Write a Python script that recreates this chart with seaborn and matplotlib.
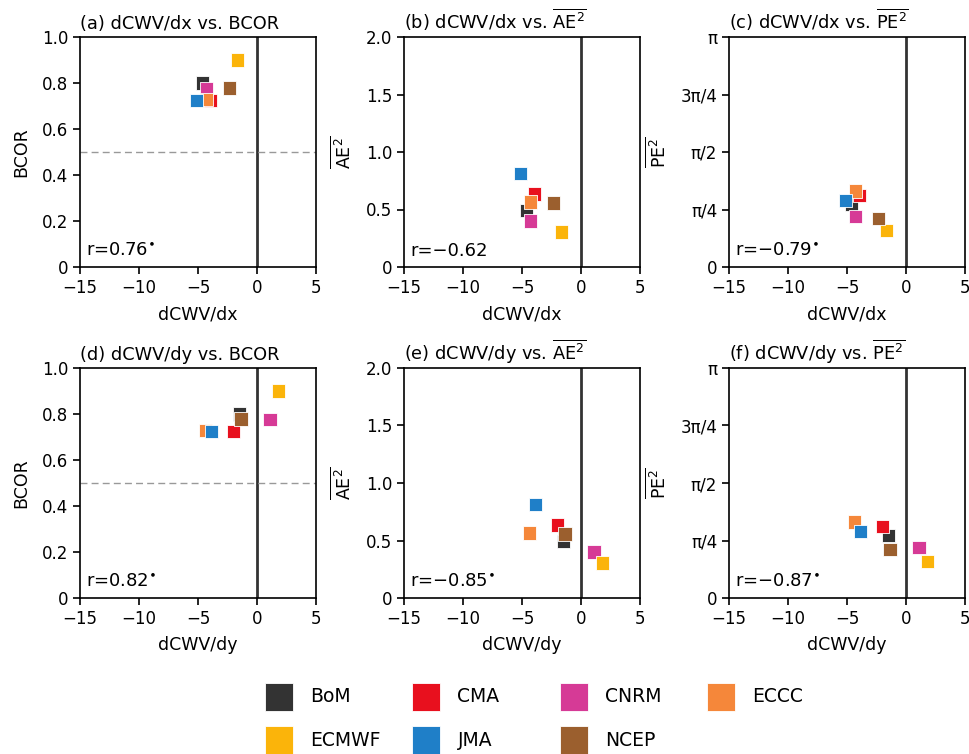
import numpy as np
import pandas as pd
import matplotlib
matplotlib.use('Agg')
import matplotlib.pyplot as plt
import seaborn as sns

# --- data ---
models = ['BoM', 'CMA', 'CNRM', 'ECCC', 'ECMWF', 'JMA', 'NCEP']
colors = ['#333333', '#e8101e', '#d63a96', '#f5873a', '#fbb40a', '#1f7fc8', '#9b5f2e']

dcwv_dx = [-4.6, -3.95, -4.3, -4.3, -1.62, -5.15, -2.35]
dcwv_dy = [-1.47, -2.0, 1.1, -4.33, 1.8, -3.85, -1.35]
bcor = [0.80, 0.725, 0.777, 0.727, 0.90, 0.723, 0.778]
ae2 = [0.49, 0.635, 0.40, 0.565, 0.305, 0.81, 0.556]
pe2 = [0.858, 0.98, 0.69, 1.038, 0.495, 0.905, 0.658]

r_dx = ['r=0.76', 'r=\u22120.62', 'r=\u22120.79']
r_dy = ['r=0.82', 'r=\u22120.85', 'r=\u22120.87']
sig_dx = [True, False, True]
sig_dy = [True, True, True]

df = pd.DataFrame({'model': models, 'dx': dcwv_dx, 'dy': dcwv_dy,
                   'BCOR': bcor, 'AE2': ae2, 'PE2': pe2})
palette = dict(zip(models, colors))

sns.set_style('ticks')
plt.rcParams['font.family'] = ['DejaVu Sans']
plt.rcParams['axes.linewidth'] = 1.2
plt.rcParams['text.color'] = 'black'
plt.rcParams['axes.labelcolor'] = 'black'
plt.rcParams['xtick.color'] = 'black'
plt.rcParams['ytick.color'] = 'black'

fig = plt.figure(figsize=(9.7, 7.54), dpi=100)
W, H = 970, 754
lefts = [80, 404, 729]
tops = [37, 368]
aw, ah = 236, 230

yvars = ['BCOR', 'AE2', 'PE2']
ylabels = ['BCOR', r'$\overline{\mathrm{AE}^2}$', r'$\overline{\mathrm{PE}^2}$']
title_y = ['BCOR', r'$\overline{\mathrm{AE}^2}$', r'$\overline{\mathrm{PE}^2}$']
letters = ['abc', 'def']
xvars = ['dx', 'dy']
xnames = ['dCWV/dx', 'dCWV/dy']
rtexts = [r_dx, r_dy]
sigs = [sig_dx, sig_dy]

for i in range(2):
    for j in range(3):
        ax = fig.add_axes([lefts[j] / W, (H - tops[i] - ah) / H, aw / W, ah / H])
        ax.axvline(0, color='#333333', lw=2, zorder=1)
        if j == 0:
            ax.axhline(0.5, color='#999999', lw=1, ls=(0, (5, 3)), zorder=1)
        sns.scatterplot(data=df, x=xvars[i], y=yvars[j], hue='model', palette=palette,
                        marker='s', s=90, edgecolor='white', linewidth=0.6,
                        legend=False, ax=ax, zorder=3)
        ax.set_xlim(-15, 5)
        ax.set_xticks([-15, -10, -5, 0, 5])
        ax.set_xticklabels(['\u221215', '\u221210', '\u22125', '0', '5'])
        if j == 0:
            ax.set_ylim(0, 1)
            ax.set_yticks(np.arange(0, 1.01, 0.2))
            ax.set_yticklabels(['0', '0.2', '0.4', '0.6', '0.8', '1.0'])
        elif j == 1:
            ax.set_ylim(0, 2)
            ax.set_yticks([0, 0.5, 1.0, 1.5, 2.0])
            ax.set_yticklabels(['0', '0.5', '1.0', '1.5', '2.0'])
        else:
            ax.set_ylim(0, np.pi)
            ax.set_yticks([0, np.pi / 4, np.pi / 2, 3 * np.pi / 4, np.pi])
            ax.set_yticklabels(['0', '\u03c0/4', '\u03c0/2', '3\u03c0/4', '\u03c0'])
        ax.tick_params(direction='out', length=5, width=1.2, labelsize=12, colors='black')
        ax.set_xlabel(xnames[i], fontsize=12.5, labelpad=6)
        ax.set_ylabel(ylabels[j], fontsize=12.5, labelpad=8)
        ax.set_title(f'({letters[i][j]}) {xnames[i]} vs. {title_y[j]}', loc='left',
                     fontsize=12.8, pad=6)
        rt = rtexts[i][j] + (r'$^{\bullet}$' if sigs[i][j] else '')
        ax.text(0.025, 0.03, rt, transform=ax.transAxes, fontsize=13,
                ha='left', va='bottom')
        for sp in ax.spines.values():
            sp.set_visible(True)
            sp.set_color('black')

# --- legend drawn by hand: evenly spaced columns like the original ---
lax = fig.add_axes([0, 0, 1, 0.12])
lax.set_xlim(0, W)
lax.set_ylim(0.12 * H, 0)
lax.axis('off')
col_x = [279, 426.5, 574, 721.5]
row_y = [697 - (H - 0.12 * H), 740 - (H - 0.12 * H)]
for k, (name, c) in enumerate(zip(models, colors)):
    cx = col_x[k % 4]
    cy = row_y[k // 4]
    lax.scatter([cx], [cy], marker='s', s=420, color=c, edgecolor='white', linewidth=0.6,
                clip_on=False)
    lax.text(cx + 31, cy, name, fontsize=13.5, va='center', ha='left')

fig.savefig('out.png', dpi=100)
